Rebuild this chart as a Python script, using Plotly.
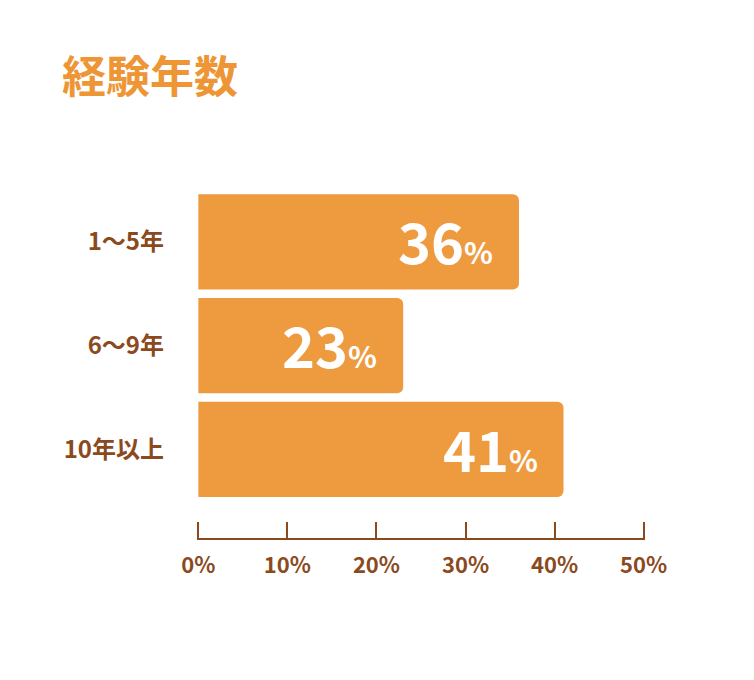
import plotly.graph_objects as go

# 経験年数の割合
categories = ['1～5年', '6～9年', '10年以上']
values = [36, 23, 41]
tick_vals = [0, 10, 20, 30, 40, 50]
tick_text = ['0%', '10%', '20%', '30%', '40%', '50%']

orange = '#EE9B40'
brown = '#8B4A1E'
font_jp = 'Noto Sans CJK JP'

fig = go.Figure()
fig.add_trace(go.Bar(
    x=values,
    y=categories,
    orientation='h',
    marker=dict(color=orange, line=dict(width=0), cornerradius=6),
    width=0.92,
    hoverinfo='skip',
))

# バー内の数値ラベル
for cat, v in zip(categories, values):
    fig.add_annotation(
        x=v, y=cat, xref='x', yref='y',
        text=f"<b><span style='font-size:56px'>{v}</span><span style='font-size:30px'>%</span></b>",
        showarrow=False, xanchor='right', yanchor='middle',
        xshift=-24, yshift=2,
        font=dict(family=font_jp, color='white', size=56),
    )

fig.update_layout(
    width=754, height=680,
    paper_bgcolor='white', plot_bgcolor='white',
    margin=dict(l=189, r=117, t=182, b=150),
    showlegend=False,
    title=dict(
        text='<b>経験年数</b>',
        x=54 / 754, xanchor='left', xref='container',
        y=1 - 70 / 680, yanchor='middle', yref='container',
        font=dict(family=font_jp, size=44, color='#EE9535'),
    ),
)
fig.update_xaxes(
    range=[-0.15, 50.15], tickvals=tick_vals, ticktext=tick_text,
    showgrid=False, zeroline=False,
    showline=True, linecolor=brown, linewidth=2,
    ticks='inside', ticklen=16, tickwidth=2, tickcolor=brown,
    ticklabelstandoff=7,
    tickfont=dict(family=font_jp, size=22, color=brown, weight='bold'),
    fixedrange=True,
)
fig.update_yaxes(
    categoryorder='array', categoryarray=categories,
    range=[2.854, -0.5],
    showgrid=False, zeroline=False, showline=False,
    ticks='', ticklabelstandoff=32,
    tickfont=dict(family=font_jp, size=24, color=brown, weight='bold'),
    fixedrange=True,
)

fig.write_html('out.html')
